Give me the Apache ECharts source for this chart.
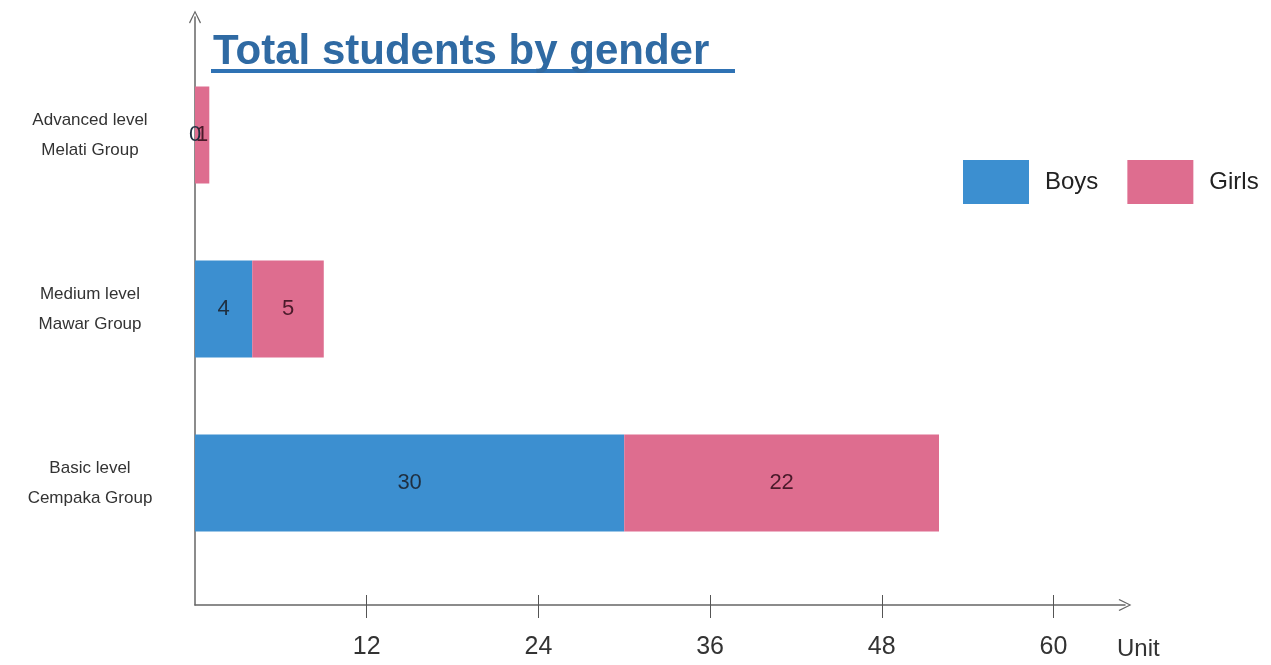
<!DOCTYPE html>
<html>
<head>
<meta charset="utf-8">
<script src="https://cdn.jsdelivr.net/npm/echarts@6/dist/echarts.min.js"></script>
<style>
  html, body { margin: 0; padding: 0; background: #fff; }
  #main { width: 1271px; height: 665px; }
</style>
</head>
<body>
<div id="main"></div>
<script>
// categories bottom -> top
var groups = ['Basic level\nCempaka Group', 'Medium level\nMawar Group', 'Advanced level\nMelati Group'];
var boys = [30, 4, 0];
var girls = [22, 5, 1];
var tickValues = [12, 24, 36, 48, 60];

var chevron = 'path://M0,12 L6,0 L12,12 L11,12.8 L6,2.4 L1,12.8 Z';
var axisColor = '#666';
var font = 'Liberation Sans Narrow, Liberation Sans, Arial';

var chart = echarts.init(document.getElementById('main'));
var option = {
  backgroundColor: '#fff',
  animation: false,
  title: {
    text: 'Total students by gender',
    left: 208,
    top: 26,
    textStyle: { fontFamily: 'Liberation Sans, Arial', fontSize: 42, fontWeight: 'bold', color: '#2f6aa3' }
  },
  graphic: [{
    type: 'rect',
    left: 211,
    top: 69,
    shape: { width: 524, height: 4 },
    style: { fill: '#2f72b4' }
  }],
  legend: {
    left: 963,
    top: 160,
    padding: 0,
    icon: 'rect',
    itemWidth: 66,
    itemHeight: 44,
    itemGap: 29,
    textStyle: { fontFamily: 'Liberation Sans, Arial', fontSize: 24, color: '#222', padding: [0, 0, 0, 11] },
    data: ['Boys', 'Girls']
  },
  grid: [
    { left: 195, right: 146, top: 17, bottom: 60 },
    { left: 195, right: 146, top: 48, bottom: 95 }
  ],
  xAxis: [{
    gridIndex: 0,
    type: 'value',
    position: 'bottom',
    min: 0,
    max: 65,
    name: 'Unit',
    nameLocation: 'end',
    nameGap: -8,
    nameTextStyle: { fontFamily: font, fontSize: 24, color: '#333', align: 'left', verticalAlign: 'top', padding: [32, 0, 0, 0] },
    axisLine: { show: true, symbol: ['none', chevron], symbolSize: [12, 14], lineStyle: { color: axisColor, width: 1.5 } },
    axisTick: { show: true, length: 13, customValues: tickValues, lineStyle: { color: '#555' } },
    axisLabel: { customValues: tickValues, margin: 30, fontFamily: font, fontSize: 25, color: '#333' },
    splitLine: { show: false }
  }, {
    gridIndex: 0,
    type: 'value',
    position: 'bottom',
    min: 0,
    max: 65,
    axisLine: { show: false },
    axisTick: { show: true, inside: true, length: 10, customValues: tickValues, lineStyle: { color: '#555' } },
    axisLabel: { show: false },
    splitLine: { show: false }
  }, {
    gridIndex: 1,
    type: 'value',
    min: 0,
    max: 65,
    show: false
  }],
  yAxis: [{
    gridIndex: 0,
    type: 'value',
    min: 0,
    max: 1,
    axisLine: { show: true, symbol: ['none', chevron], symbolSize: [12, 14], lineStyle: { color: axisColor, width: 1.5 } },
    axisTick: { show: false },
    axisLabel: { show: false },
    splitLine: { show: false }
  }, {
    gridIndex: 1,
    type: 'category',
    data: groups,
    axisLine: { show: false },
    axisTick: { show: false },
    axisLabel: { align: 'center', margin: 105, fontFamily: font, fontSize: 17, lineHeight: 30, color: '#333' }
  }],
  series: [{
    name: 'Boys',
    type: 'bar',
    stack: 'total',
    xAxisIndex: 2,
    yAxisIndex: 1,
    barWidth: 97,
    itemStyle: { color: '#3c8fd0' },
    label: { show: true, position: 'inside', fontFamily: font, fontSize: 22, color: '#1f2f40' },
    data: boys
  }, {
    name: 'Girls',
    type: 'bar',
    stack: 'total',
    xAxisIndex: 2,
    yAxisIndex: 1,
    barWidth: 97,
    itemStyle: { color: '#de6d8f' },
    label: { show: true, position: 'inside', fontFamily: font, fontSize: 22, color: '#4a1a2a' },
    data: girls
  }]
};
chart.setOption(option);
</script>
</body>
</html>
